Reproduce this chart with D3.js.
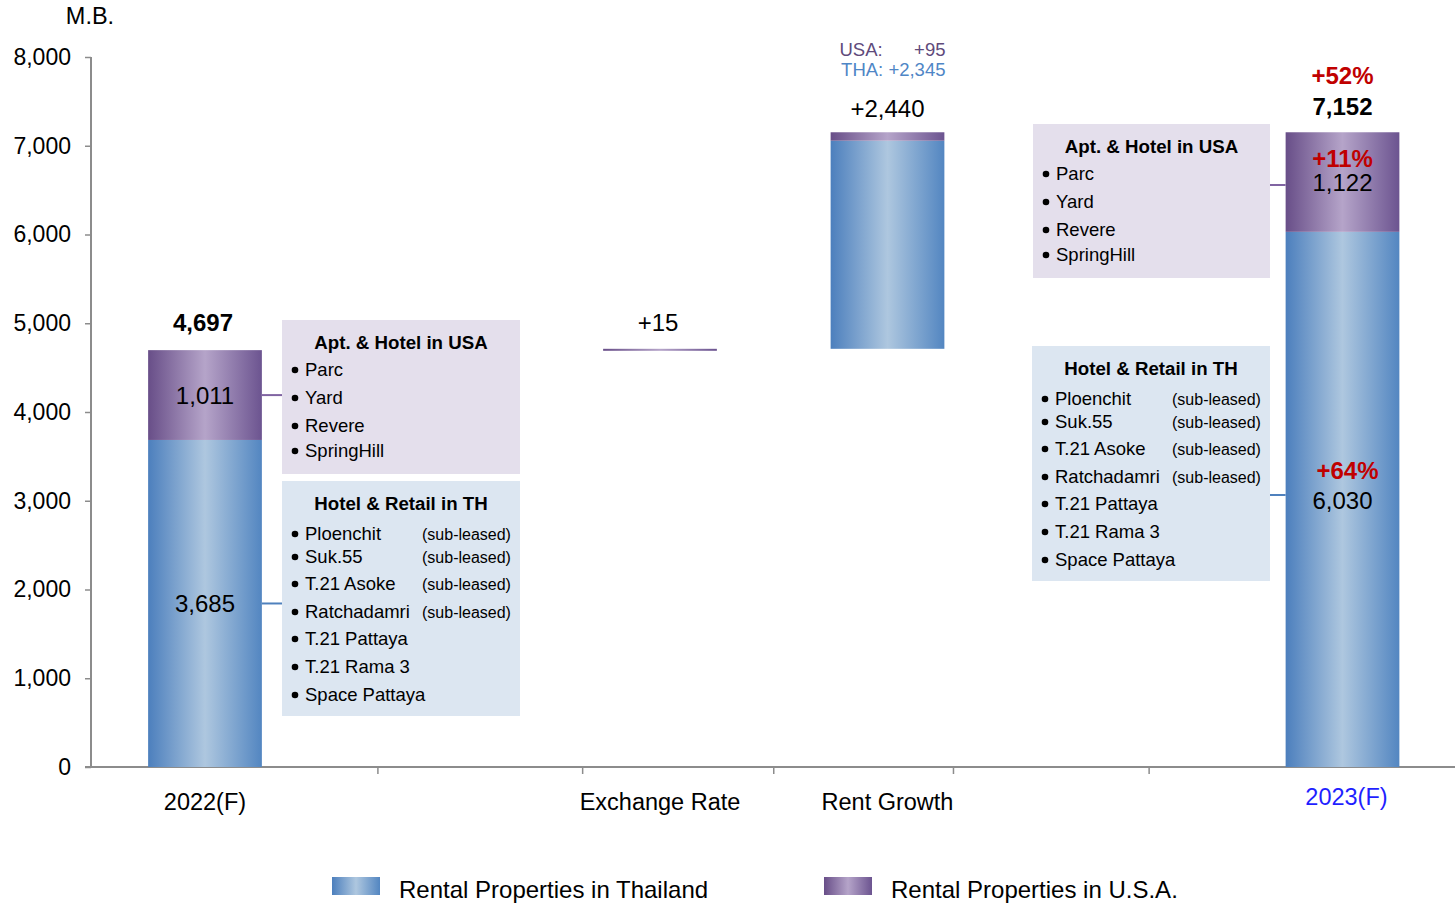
<!DOCTYPE html>
<html>
<head>
<meta charset="utf-8">
<script src="https://cdn.jsdelivr.net/npm/d3@7"></script>
<style>
  body { margin: 0; background: #fff; }
  svg { font-family: Arial, "Liberation Sans", sans-serif; }
</style>
</head>
<body>
<svg id="chart" width="1455" height="903"></svg>
<script>
// data
var categories = ["2022(F)", "Exchange Rate", "Rent Growth", "2023(F)"];
var slots = [0, 2, 3, 5];              // position on the category axis
var kinds = ["total", "delta", "delta", "total"];
var thaiValues = [3685, 0, 2345, 6030];
var usaValues = [1011, 15, 95, 1122];
var totalValues = [4697, 15, 2440, 7152];   // as printed (rounded)
var yTicks = [0, 1000, 2000, 3000, 4000, 5000, 6000, 7000, 8000];
var xTickSlots = [0.76, 1.66, 2.5, 3.29, 4.15];

var usaItems = ["Parc", "Yard", "Revere", "SpringHill"];
var thItems = ["Ploenchit", "Suk.55", "T.21 Asoke", "Ratchadamri", "T.21 Pattaya", "T.21 Rama 3", "Space Pattaya"];
var thSubLeased = [true, true, true, true, false, false, false];

var svg = d3.select("#chart");

var y = d3.scaleLinear().domain([0, 8000]).range([767, 57]);
var x = d3.scaleLinear().domain([0, 5]).range([205, 1342.5]);
var barW = (x(1) - x(0)) * 0.5;

// gradients
var defs = svg.append("defs");
function grad(id, edgeL, mid, edgeR) {
  var g = defs.append("linearGradient").attr("id", id)
    .attr("x1", "0%").attr("x2", "100%").attr("y1", "0%").attr("y2", "0%");
  g.append("stop").attr("offset", "0%").attr("stop-color", edgeL);
  g.append("stop").attr("offset", "50%").attr("stop-color", mid);
  g.append("stop").attr("offset", "100%").attr("stop-color", edgeR);
}
grad("gBlue", "#4c7fbd", "#aec7df", "#5386c1");
grad("gPurple", "#684e88", "#b5a4c9", "#6c5490");

// build waterfall rows
var running = 0;
var rows = categories.map(function(c, i) {
  var base = kinds[i] === "total" ? 0 : running;
  var top = base + totalValues[i];
  running = top;
  return { cat: c, slot: slots[i], base: base, thai: thaiValues[i], usa: usaValues[i], total: totalValues[i], top: top };
});

// axes
var axisColor = "#8c8c8c";
var yAxis = svg.append("g").attr("transform", "translate(91,0)")
  .call(d3.axisLeft(y).tickValues(yTicks).tickSize(6).tickPadding(14).tickFormat(d3.format(",")));
yAxis.select(".domain").attr("stroke", axisColor).attr("stroke-width", 2).attr("d", "M0," + y(8000) + "V" + y(0));
yAxis.selectAll(".tick line").attr("stroke", axisColor).attr("stroke-width", 1.5);
yAxis.selectAll(".tick text").attr("font-size", 23).attr("fill", "#000").attr("font-family", null);

svg.append("line").attr("x1", 85).attr("x2", 1455).attr("y1", y(0)).attr("y2", y(0))
  .attr("stroke", axisColor).attr("stroke-width", 2);
svg.selectAll(".xtick").data(xTickSlots).enter().append("line")
  .attr("x1", function(d) { return x(d); }).attr("x2", function(d) { return x(d); })
  .attr("y1", y(0)).attr("y2", y(0) + 7)
  .attr("stroke", axisColor).attr("stroke-width", 1.5);

svg.append("text").attr("x", 90).attr("y", 24).attr("text-anchor", "middle")
  .attr("font-size", 23.5).text("M.B.");

// bars
var bars = svg.selectAll(".bar").data(rows).enter().append("g");
bars.filter(function(d) { return d.thai > 0; }).append("rect")
  .attr("x", function(d) { return x(d.slot) - barW / 2; })
  .attr("width", barW)
  .attr("y", function(d) { return y(d.base + d.thai); })
  .attr("height", function(d) { return y(d.base) - y(d.base + d.thai); })
  .attr("fill", "url(#gBlue)");
bars.append("rect")
  .attr("x", function(d) { return x(d.slot) - barW / 2; })
  .attr("width", barW)
  .attr("y", function(d) { return y(d.top); })
  .attr("height", function(d) { return Math.max(2, y(d.base + d.thai) - y(d.top)); })
  .attr("fill", "url(#gPurple)");

// category labels
svg.selectAll(".cat").data(rows).enter().append("text")
  .attr("x", function(d) { return x(d.slot) + (d.cat === "2023(F)" ? 4 : 0); })
  .attr("y", function(d) { return d.cat === "2023(F)" ? 805 : 810; })
  .attr("text-anchor", "middle").attr("font-size", 23.5)
  .attr("fill", function(d) { return d.cat === "2023(F)" ? "#1f1fff" : "#000"; })
  .text(function(d) { return d.cat; });

var fmt = d3.format(",");
var red = "#c00000";
function label(xp, yp, txt, opts) {
  opts = opts || {};
  return svg.append("text").attr("x", xp).attr("y", yp)
    .attr("text-anchor", opts.anchor || "middle")
    .attr("font-size", opts.size || 24)
    .attr("font-weight", opts.bold ? "bold" : "normal")
    .attr("fill", opts.color || "#000")
    .text(txt);
}

var r0 = rows[0], r1 = rows[1], r2 = rows[2], r3 = rows[3];
// 2022
label(x(r0.slot) - 2, y(r0.top) - 19, fmt(r0.total), { bold: true });
label(x(r0.slot), y(r0.thai + r0.usa / 2) + 9, fmt(r0.usa));
label(x(r0.slot), y(r0.thai / 2) + 9, fmt(r0.thai));
// exchange rate
label(x(r1.slot) - 2, y(r1.top) - 18, "+" + fmt(r1.total));
// rent growth
label(x(r2.slot), y(r2.top) - 15, "+" + fmt(r2.total));
label(x(r2.slot) - 48, 56, "USA:", { size: 18.5, color: "#604a7b", anchor: "start" });
label(x(r2.slot) + 58, 56, "+" + fmt(r2.usa), { size: 18.5, color: "#604a7b", anchor: "end" });
label(x(r2.slot) + 58, 76, "THA: +" + fmt(r2.thai), { size: 18.5, color: "#4f86c6", anchor: "end" });
// 2023
var pct = function(a, b) { return "+" + Math.round((a / b - 1) * 100) + "%"; };
label(x(r3.slot), y(r3.top) - 48, pct(r3.total, r0.total), { bold: true, color: red });
label(x(r3.slot), y(r3.top) - 17, fmt(r3.total), { bold: true });
label(x(r3.slot), y(r3.top) + 35, pct(r3.usa, r0.usa), { bold: true, color: red });
label(x(r3.slot), y(r3.top) + 59, fmt(r3.usa));
label(x(r3.slot) + 5, 479, pct(r3.thai, r0.thai), { bold: true, color: red });
label(x(r3.slot), 509, fmt(r3.thai));

// annotation boxes
function box(bx, by, w, h, fill, title, items, subs, gaps) {
  var g = svg.append("g");
  g.append("rect").attr("x", bx).attr("y", by).attr("width", w).attr("height", h).attr("fill", fill);
  g.append("text").attr("x", bx + w / 2).attr("y", by + 29).attr("text-anchor", "middle")
    .attr("font-size", 18.7).attr("font-weight", "bold").text(title);
  var yy = by + 29;
  items.forEach(function(t, i) {
    yy += gaps[i];
    g.append("circle").attr("cx", bx + 13).attr("cy", yy - 6).attr("r", 3.3).attr("fill", "#000");
    g.append("text").attr("x", bx + 23).attr("y", yy).attr("font-size", 18.5).text(t);
    if (subs && subs[i]) {
      g.append("text").attr("x", bx + 140).attr("y", yy).attr("font-size", 16).text("(sub-leased)");
    }
  });
}
var usaGaps = [27, 28, 28, 25];
var thGaps = [30, 23, 27, 28, 27, 28, 28];

box(282, 320, 238, 154, "#e4dfec", "Apt. & Hotel in USA", usaItems, null, usaGaps);
box(282, 481, 238, 235, "#dce6f1", "Hotel & Retail in TH", thItems, thSubLeased, thGaps);
box(1033, 124, 237, 154, "#e4dfec", "Apt. & Hotel in USA", usaItems, null, usaGaps);
box(1032, 346, 238, 235, "#dce6f1", "Hotel & Retail in TH", thItems, thSubLeased, thGaps);

// connectors
function connector(x1, x2, yp, color) {
  svg.append("line").attr("x1", x1).attr("x2", x2).attr("y1", yp).attr("y2", yp)
    .attr("stroke", color).attr("stroke-width", 2);
}
connector(x(0) + barW / 2, 282, y(r0.thai + r0.usa / 2), "#8064a2");
connector(x(0) + barW / 2, 282, y(r0.thai / 2), "#4f81bd");
connector(1270, x(5) - barW / 2, 185, "#8064a2");
connector(1270, x(5) - barW / 2, 495, "#4f81bd");

// legend
var legend = [
  { name: "Rental Properties in Thailand", fill: "url(#gBlue)", x: 332 },
  { name: "Rental Properties in U.S.A.", fill: "url(#gPurple)", x: 824 }
];
var lg = svg.selectAll(".lg").data(legend).enter().append("g");
lg.append("rect").attr("x", function(d) { return d.x; }).attr("y", 877)
  .attr("width", 48).attr("height", 18).attr("fill", function(d) { return d.fill; });
lg.append("text").attr("x", function(d) { return d.x + 67; }).attr("y", 898)
  .attr("font-size", 24).text(function(d) { return d.name; });
</script>
</body>
</html>
